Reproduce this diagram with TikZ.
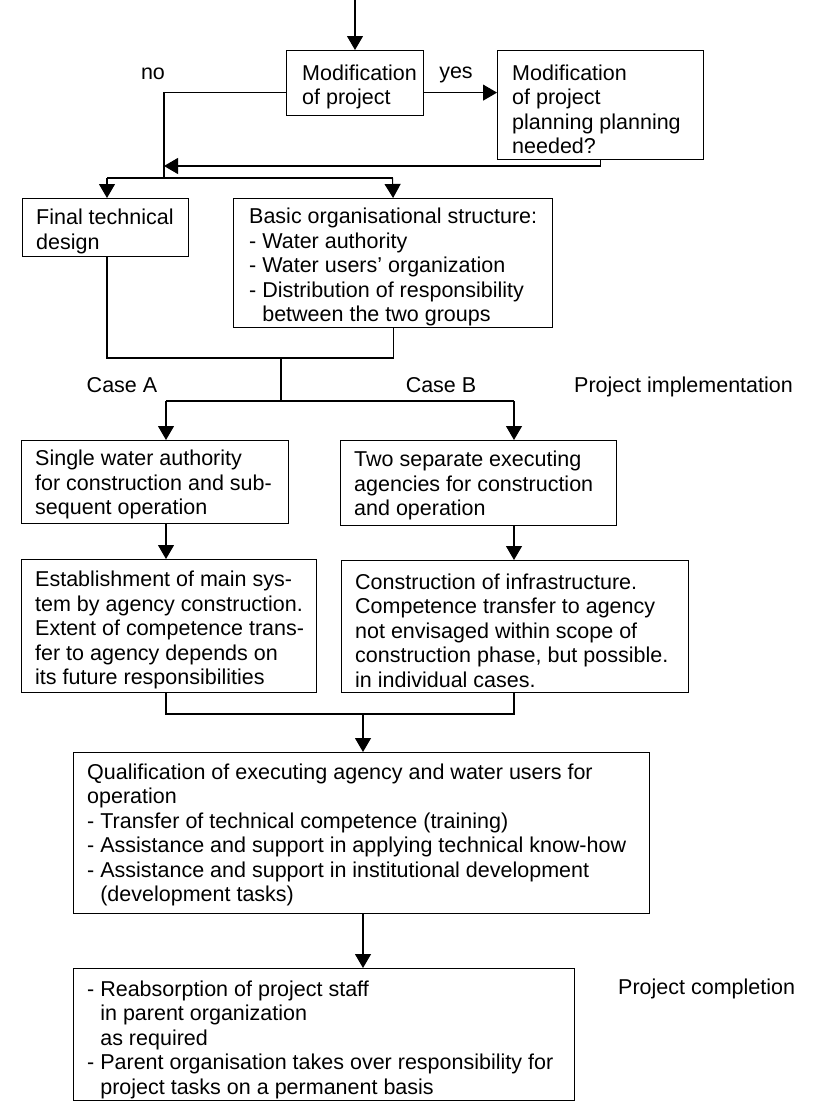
\documentclass[tikz,border=0pt]{standalone}
\usepackage{fontspec}
\setmainfont{Liberation Sans}
\usetikzlibrary{arrows.meta}
\newcommand{\hangpad}{\phantom{- }}
\begin{document}
\begin{tikzpicture}[x=1pt,y=-1pt,
  txtfont/.style={font=\fontsize{21.5}{24.5}\selectfont},
  box/.style={draw, line width=1.2pt, anchor=north west, inner sep=0pt},
  txt/.style={txtfont, anchor=west, align=left, inner sep=0pt, yshift=-4pt},
  lbl/.style={txtfont, inner sep=0pt},
  conn/.style={line width=1.1pt},
  arr/.style={conn, -{Triangle[length=14pt,width=16pt]}},
]
\fill[white] (0,0) rectangle (813,1101);
\useasboundingbox (0,0) rectangle (813,1101);

% boxes (frame) and their texts
\node[box, minimum width=137pt, minimum height=65pt] (m1) at (286,50) {};
\node[txt] (m1t) at ([xshift=16pt]m1.west) {Modification\\of project};

\node[box, minimum width=206pt, minimum height=109pt] (m2) at (497,50) {};
\node[txt] (m2t) at ([xshift=15pt]m2.west) {Modification\\of project\\planning planning\\needed?};

\node[box, minimum width=166pt, minimum height=58pt] (fin) at (22,198) {};
\node[txt] (fint) at ([xshift=14pt]fin.west) {Final technical\\design};

\node[box, minimum width=319pt, minimum height=129pt] (basic) at (233,198) {};
\node[txt] (basict) at ([xshift=16pt]basic.west) {Basic organisational structure:\\- Water authority\\- Water users' organization\\- Distribution of responsibility\\\hangpad between the two groups};

\node[box, minimum width=267pt, minimum height=83pt] (single) at (21,440) {};
\node[txt, yshift=1.5pt] (singlet) at ([xshift=14pt]single.west) {Single water authority\\for construction and sub-\\sequent operation};

\node[box, minimum width=276pt, minimum height=85pt] (two) at (340,440) {};
\node[txt, yshift=1.5pt] (twot) at ([xshift=14pt]two.west) {Two separate executing\\agencies for construction\\and operation};

\node[box, minimum width=295pt, minimum height=133pt] (est) at (21,559) {};
\node[txt] (estt) at ([xshift=14pt]est.west) {Establishment of main sys-\\tem by agency construction.\\Extent of competence trans-\\fer to agency depends on\\its future responsibilities};

\node[box, minimum width=347pt, minimum height=132pt] (cons) at (341,560) {};
\node[txt] (const) at ([xshift=14pt]cons.west) {Construction of infrastructure.\\Competence transfer to agency\\not envisaged within scope of\\construction phase, but possible.\\in individual cases.};

\node[box, minimum width=576pt, minimum height=161pt] (qual) at (73,752) {};
\node[txt, yshift=2pt] (qualt) at ([xshift=14pt]qual.west) {Qualification of executing agency and water users for\\operation\\- Transfer of technical competence (training)\\- Assistance and support in applying technical know-how\\- Assistance and support in institutional development\\\hangpad(development tasks)};

\node[box, minimum width=501pt, minimum height=132pt] (last) at (73,968) {};
\node[txt, yshift=-1pt] (lastt) at ([xshift=14pt]last.west) {- Reabsorption of project staff\\\hangpad in parent organization\\\hangpad as required\\- Parent organisation takes over responsibility for\\\hangpad project tasks on a permanent basis};

% free labels
\node[lbl, anchor=base] (no) at (153,79.5) {no};
\node[lbl, anchor=base] (yes) at (456,78.5) {yes};
\node[lbl, anchor=base] (casea) at (122,392) {Case A};
\node[lbl, anchor=base] (caseb) at (441,392) {Case B};
\node[lbl, anchor=base west] (impl) at (574,392) {Project implementation};
\node[lbl, anchor=base west] (compl) at (618,994) {Project completion};

% junction points
\coordinate (top) at (355,0);
\coordinate (nj) at (164,178);
\coordinate (rj) at (164,166);
\coordinate (sl) at (107,178);
\coordinate (sr) at (392.5,178);
\coordinate (j1) at (281,358);
\coordinate (j2) at (281,401);
\coordinate (ca) at (166,401);
\coordinate (cb) at (514,401);
\coordinate (k) at (363,714);

% connectors
\draw[arr] (top) -- (top |- m1.north);
\draw[arr] ([yshift=-9.5pt]m1.east) -- ([yshift=-9.5pt]m1.east -| m2.west);
\draw[conn] ([yshift=-9.5pt]m1.west) -| (nj);
\draw[arr] (m2.south) |- (rj);
\draw[conn] (sl) -- (sr);
\draw[arr] (sl) -- (sl |- fin.north);
\draw[arr] (sr) -- (basic.north);
\draw[conn] (sl |- fin.south) |- (j1 -| basic.south) -- (basic.south);
\draw[conn] (j1) -- (j2);
\draw[conn] (ca) -- (cb);
\draw[arr] (ca) -- (ca |- single.north);
\draw[arr] (cb) -- (cb |- two.north);
\draw[arr] (ca |- single.south) -- (ca |- est.north);
\draw[arr] (cb |- two.south) -- (cb |- cons.north);
\draw[conn] (ca |- est.south) |- (cb |- k) -- (cb |- cons.south);
\draw[arr] (k) -- (k |- qual.north);
\draw[arr] (k |- qual.south) -- (k |- last.north);
\end{tikzpicture}
\end{document}
